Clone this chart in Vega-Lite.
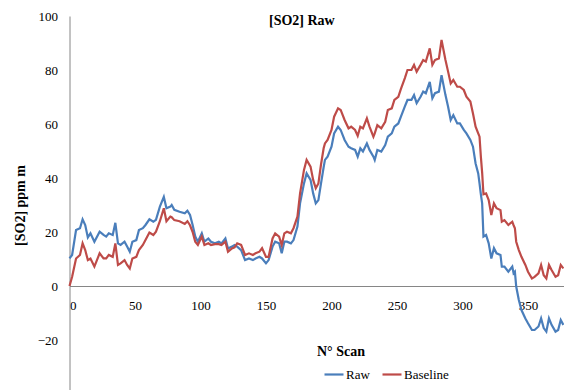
{
  "$schema": "https://vega.github.io/schema/vega-lite/v6.json",
  "width": 524,
  "height": 378,
  "autosize": {"type": "none"},
  "padding": {"left": 69.5, "top": 16, "right": 0, "bottom": 0},
  "background": "white",
  "config": {
    "view": {"stroke": null},
    "font": "Liberation Serif, DejaVu Serif, serif",
    "axis": {
      "labelFont": "Liberation Serif, DejaVu Serif, serif",
      "titleFont": "Liberation Serif, DejaVu Serif, serif",
      "labelColor": "#000000",
      "titleColor": "#000000",
      "labelFontSize": 13,
      "titleFontSize": 14,
      "titleFontWeight": "bold",
      "grid": false,
      "ticks": false,
      "domainColor": "#868686",
      "domainWidth": 1
    },
    "legend": {"labelFont": "Liberation Serif, DejaVu Serif, serif"},
    "title": {"font": "Liberation Serif, DejaVu Serif, serif"}
  },
  "title": {
    "text": "[SO2] Raw",
    "fontSize": 14,
    "fontWeight": "bold",
    "color": "#000000",
    "anchor": "start",
    "frame": "group",
    "dx": 199.5,
    "offset": -29,
    "baseline": "alphabetic"
  },
  "data": {
    "values": [
      {"scan": 0, "Raw": 10.2, "Baseline": 0},
      {"scan": 2, "Raw": 11.5, "Baseline": 3.4},
      {"scan": 5, "Raw": 20.7, "Baseline": 10.2},
      {"scan": 8, "Raw": 21.4, "Baseline": 11.5},
      {"scan": 10, "Raw": 24.7, "Baseline": 15.8},
      {"scan": 12, "Raw": 22.6, "Baseline": 13.3},
      {"scan": 14, "Raw": 18, "Baseline": 9.6},
      {"scan": 16, "Raw": 19.5, "Baseline": 10.2},
      {"scan": 19, "Raw": 16.4, "Baseline": 7.2},
      {"scan": 23, "Raw": 20.1, "Baseline": 12.1},
      {"scan": 26, "Raw": 18.9, "Baseline": 10.2},
      {"scan": 28, "Raw": 18.3, "Baseline": 10.2},
      {"scan": 30, "Raw": 19.5, "Baseline": 11.5},
      {"scan": 33, "Raw": 18.9, "Baseline": 10.8},
      {"scan": 35, "Raw": 23.4, "Baseline": 15.8},
      {"scan": 37, "Raw": 15.8, "Baseline": 7.8},
      {"scan": 39, "Raw": 15.2, "Baseline": 8.4},
      {"scan": 42, "Raw": 16.4, "Baseline": 9.6},
      {"scan": 44, "Raw": 14.6, "Baseline": 7.8},
      {"scan": 46, "Raw": 12.7, "Baseline": 6.5},
      {"scan": 48, "Raw": 16.4, "Baseline": 10.2},
      {"scan": 51, "Raw": 17, "Baseline": 10.8},
      {"scan": 53, "Raw": 20.7, "Baseline": 13.3},
      {"scan": 56, "Raw": 21.4, "Baseline": 15.2},
      {"scan": 58, "Raw": 22.6, "Baseline": 17},
      {"scan": 61, "Raw": 24.7, "Baseline": 19.8},
      {"scan": 64, "Raw": 23.8, "Baseline": 18.9},
      {"scan": 66, "Raw": 24.5, "Baseline": 20.1},
      {"scan": 69, "Raw": 29.4, "Baseline": 24},
      {"scan": 72, "Raw": 33, "Baseline": 28.8},
      {"scan": 74, "Raw": 28.8, "Baseline": 24},
      {"scan": 77, "Raw": 29.4, "Baseline": 25.7},
      {"scan": 78, "Raw": 30, "Baseline": 25.5},
      {"scan": 80, "Raw": 28.2, "Baseline": 24.4},
      {"scan": 84, "Raw": 27.5, "Baseline": 24},
      {"scan": 88, "Raw": 26.9, "Baseline": 23},
      {"scan": 90, "Raw": 27.9, "Baseline": 24},
      {"scan": 92, "Raw": 26.3, "Baseline": 22.5},
      {"scan": 94, "Raw": 22.6, "Baseline": 20},
      {"scan": 96, "Raw": 18.3, "Baseline": 16.4},
      {"scan": 98, "Raw": 16.4, "Baseline": 15.2},
      {"scan": 101, "Raw": 19.5, "Baseline": 18.3},
      {"scan": 103, "Raw": 16.4, "Baseline": 15.2},
      {"scan": 106, "Raw": 17.6, "Baseline": 15.8},
      {"scan": 108, "Raw": 16.4, "Baseline": 15.2},
      {"scan": 111, "Raw": 15.8, "Baseline": 15.5},
      {"scan": 114, "Raw": 16.4, "Baseline": 15.5},
      {"scan": 116, "Raw": 15.8, "Baseline": 15.2},
      {"scan": 119, "Raw": 17.6, "Baseline": 16.4},
      {"scan": 121, "Raw": 13.9, "Baseline": 12.7},
      {"scan": 124, "Raw": 14.6, "Baseline": 13.9},
      {"scan": 126, "Raw": 15.2, "Baseline": 14.3},
      {"scan": 128, "Raw": 14.6, "Baseline": 15.8},
      {"scan": 131, "Raw": 13.3, "Baseline": 15.2},
      {"scan": 134, "Raw": 9.6, "Baseline": 11.5},
      {"scan": 137, "Raw": 10.2, "Baseline": 12.1},
      {"scan": 140, "Raw": 9.6, "Baseline": 11.5},
      {"scan": 142, "Raw": 10.2, "Baseline": 12.1},
      {"scan": 145, "Raw": 10.8, "Baseline": 12.7},
      {"scan": 147, "Raw": 10.2, "Baseline": 14},
      {"scan": 150, "Raw": 8.4, "Baseline": 10.8},
      {"scan": 152, "Raw": 9.6, "Baseline": 10.8},
      {"scan": 155, "Raw": 14.6, "Baseline": 17.6},
      {"scan": 157, "Raw": 16.4, "Baseline": 19.5},
      {"scan": 160, "Raw": 15.8, "Baseline": 18.3},
      {"scan": 162, "Raw": 12.1, "Baseline": 15.2},
      {"scan": 164, "Raw": 16.4, "Baseline": 19.5},
      {"scan": 166, "Raw": 16.4, "Baseline": 20.1},
      {"scan": 169, "Raw": 15.8, "Baseline": 19.5},
      {"scan": 171, "Raw": 17, "Baseline": 21.4},
      {"scan": 174, "Raw": 22, "Baseline": 25.7},
      {"scan": 176, "Raw": 30.6, "Baseline": 34.3},
      {"scan": 179, "Raw": 38, "Baseline": 43},
      {"scan": 181, "Raw": 41.7, "Baseline": 46.7},
      {"scan": 184, "Raw": 39.3, "Baseline": 44.2},
      {"scan": 186, "Raw": 34.3, "Baseline": 39.3},
      {"scan": 188, "Raw": 30.6, "Baseline": 36.2},
      {"scan": 190, "Raw": 31.8, "Baseline": 38},
      {"scan": 192, "Raw": 38, "Baseline": 45},
      {"scan": 194, "Raw": 44, "Baseline": 51},
      {"scan": 195, "Raw": 46.7, "Baseline": 52.8},
      {"scan": 197, "Raw": 47.9, "Baseline": 54.1},
      {"scan": 200, "Raw": 51.6, "Baseline": 57.8},
      {"scan": 202, "Raw": 56.5, "Baseline": 62.7},
      {"scan": 205, "Raw": 59, "Baseline": 65.8},
      {"scan": 207, "Raw": 57.8, "Baseline": 65.2},
      {"scan": 210, "Raw": 54.1, "Baseline": 61.5},
      {"scan": 213, "Raw": 51.6, "Baseline": 58.4},
      {"scan": 215, "Raw": 51, "Baseline": 59},
      {"scan": 218, "Raw": 50.4, "Baseline": 57.8},
      {"scan": 220, "Raw": 47.9, "Baseline": 55.6},
      {"scan": 222, "Raw": 51, "Baseline": 59},
      {"scan": 224, "Raw": 49.8, "Baseline": 58.4},
      {"scan": 227, "Raw": 52.8, "Baseline": 62.1},
      {"scan": 229, "Raw": 50.4, "Baseline": 59},
      {"scan": 232, "Raw": 47.9, "Baseline": 55.3},
      {"scan": 233, "Raw": 46.7, "Baseline": 56.5},
      {"scan": 235, "Raw": 50.4, "Baseline": 59.6},
      {"scan": 238, "Raw": 49.8, "Baseline": 58.4},
      {"scan": 241, "Raw": 52.2, "Baseline": 60.8},
      {"scan": 243, "Raw": 55.3, "Baseline": 65.2},
      {"scan": 246, "Raw": 56.5, "Baseline": 65.8},
      {"scan": 248, "Raw": 59, "Baseline": 68.9},
      {"scan": 251, "Raw": 60.2, "Baseline": 70.1},
      {"scan": 253, "Raw": 62.7, "Baseline": 73},
      {"scan": 256, "Raw": 66.5, "Baseline": 77},
      {"scan": 258, "Raw": 68.9, "Baseline": 80},
      {"scan": 261, "Raw": 68.9, "Baseline": 80},
      {"scan": 263, "Raw": 70.7, "Baseline": 81.9},
      {"scan": 265, "Raw": 67.7, "Baseline": 79.4},
      {"scan": 268, "Raw": 70.1, "Baseline": 81.9},
      {"scan": 270, "Raw": 72, "Baseline": 83.7},
      {"scan": 272, "Raw": 71.4, "Baseline": 83.1},
      {"scan": 275, "Raw": 75.6, "Baseline": 88},
      {"scan": 277, "Raw": 69.5, "Baseline": 81.9},
      {"scan": 279, "Raw": 71.4, "Baseline": 83.7},
      {"scan": 282, "Raw": 72, "Baseline": 84.3},
      {"scan": 284, "Raw": 78.1, "Baseline": 91.1},
      {"scan": 287, "Raw": 70.7, "Baseline": 83.7},
      {"scan": 289, "Raw": 66.4, "Baseline": 79.4},
      {"scan": 291, "Raw": 61.5, "Baseline": 75},
      {"scan": 293, "Raw": 63.3, "Baseline": 76.3},
      {"scan": 296, "Raw": 60.2, "Baseline": 73.8},
      {"scan": 298, "Raw": 60.2, "Baseline": 73.8},
      {"scan": 301, "Raw": 57.8, "Baseline": 72.6},
      {"scan": 303, "Raw": 56.5, "Baseline": 70.1},
      {"scan": 306, "Raw": 54.1, "Baseline": 68.3},
      {"scan": 308, "Raw": 51.6, "Baseline": 63.9},
      {"scan": 310, "Raw": 45.4, "Baseline": 59},
      {"scan": 312, "Raw": 41.7, "Baseline": 56.5},
      {"scan": 313, "Raw": 38, "Baseline": 55.3},
      {"scan": 314, "Raw": 34, "Baseline": 48},
      {"scan": 315, "Raw": 30.6, "Baseline": 42},
      {"scan": 316, "Raw": 18.3, "Baseline": 34},
      {"scan": 318, "Raw": 18.9, "Baseline": 34.3},
      {"scan": 320, "Raw": 15.8, "Baseline": 31.8},
      {"scan": 322, "Raw": 10.2, "Baseline": 26.3},
      {"scan": 324, "Raw": 14, "Baseline": 30.6},
      {"scan": 326, "Raw": 12.1, "Baseline": 28.8},
      {"scan": 329, "Raw": 11.5, "Baseline": 28.1},
      {"scan": 330, "Raw": 7.2, "Baseline": 23.8},
      {"scan": 332, "Raw": 7.2, "Baseline": 24.4},
      {"scan": 335, "Raw": 5.3, "Baseline": 22.6},
      {"scan": 338, "Raw": 7.2, "Baseline": 23.8},
      {"scan": 339, "Raw": 4.7, "Baseline": 22.5},
      {"scan": 340, "Raw": 5.3, "Baseline": 21.4},
      {"scan": 341, "Raw": -0.2, "Baseline": 16.4},
      {"scan": 343, "Raw": -5.2, "Baseline": 13.3},
      {"scan": 345, "Raw": -8.9, "Baseline": 10.8},
      {"scan": 348, "Raw": -12, "Baseline": 7.8},
      {"scan": 350, "Raw": -13.8, "Baseline": 5.3},
      {"scan": 353, "Raw": -16.3, "Baseline": 2.8},
      {"scan": 355, "Raw": -16.3, "Baseline": 3.4},
      {"scan": 358, "Raw": -15, "Baseline": 4.7},
      {"scan": 360, "Raw": -12, "Baseline": 7.8},
      {"scan": 362, "Raw": -15.6, "Baseline": 4},
      {"scan": 364, "Raw": -16.9, "Baseline": 2.8},
      {"scan": 366, "Raw": -12, "Baseline": 7.8},
      {"scan": 368, "Raw": -14.4, "Baseline": 5.9},
      {"scan": 371, "Raw": -16.9, "Baseline": 3.4},
      {"scan": 373, "Raw": -16.3, "Baseline": 4},
      {"scan": 375, "Raw": -12.6, "Baseline": 7.8},
      {"scan": 377, "Raw": -14.4, "Baseline": 6.5}
    ]
  },
  "transform": [{"fold": ["Raw", "Baseline"], "as": ["series", "ppm"]}],
  "mark": {"type": "line", "strokeWidth": 2.2},
  "encoding": {
    "x": {
      "field": "scan",
      "type": "quantitative",
      "scale": {"domain": [0, 400], "nice": false},
      "axis": {
        "values": [0, 50, 100, 150, 200, 250, 300, 350],
        "offset": -108,
        "labelPadding": 13,
        "title": "N° Scan",
        "titleX": 271,
        "titleY": 69,
        "titleBaseline": "alphabetic",
        "titleAlign": "center"
      }
    },
    "y": {
      "field": "ppm",
      "type": "quantitative",
      "scale": {"domain": [-40, 100], "nice": false, "zero": false},
      "axis": {
        "values": [-40, -20, 0, 20, 40, 60, 80, 100],
        "labelPadding": 12,
        "title": "[SO2] ppm m",
        "titlePadding": 10
      }
    },
    "color": {
      "field": "series",
      "type": "nominal",
      "scale": {"domain": ["Raw", "Baseline"], "range": ["#4A7EBB", "#BE4B48"]},
      "legend": {
        "orient": "none",
        "legendX": 253.5,
        "legendY": 347.5,
        "direction": "horizontal",
        "title": null,
        "symbolType": "stroke",
        "symbolStrokeWidth": 2.2,
        "symbolSize": 361,
        "labelFontSize": 13,
        "labelColor": "#000000",
        "labelOffset": 1,
        "columnPadding": 8,
        "padding": 0
      }
    }
  }
}
